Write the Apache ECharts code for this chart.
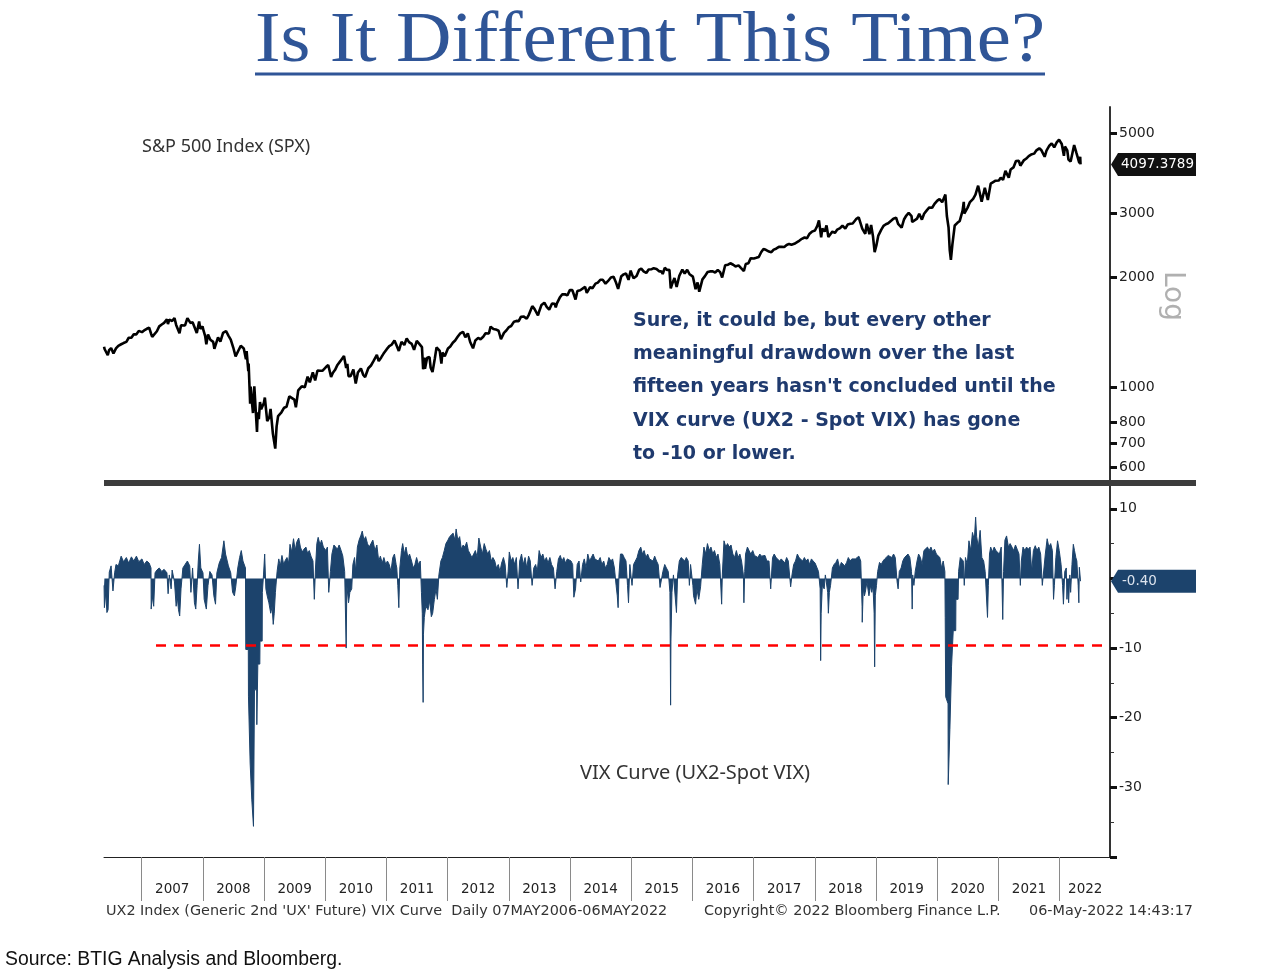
<!DOCTYPE html>
<html><head><meta charset="utf-8">
<script src="https://cdn.jsdelivr.net/npm/echarts@6/dist/echarts.min.js"></script>
<style>html,body{margin:0;padding:0;background:#fff}#c{width:1280px;height:973px}</style>
</head><body><div id="c"></div>
<script>
// ---------------- DATA ----------------
const TITLE = 'Is It Different This Time?';
const SPX_LABEL = 'S&P 500 Index (SPX)';
const VIX_LABEL = 'VIX Curve (UX2-Spot VIX)';
const NOTE_LINES = [
  'Sure, it could be, but every other',
  'meaningful drawdown over the last',
  "fifteen years hasn't concluded until the",
  'VIX curve (UX2 - Spot VIX) has gone',
  'to -10 or lower.'
];
const FOOT_LEFT = "UX2 Index (Generic 2nd 'UX' Future) VIX Curve  Daily 07MAY2006-06MAY2022";
const FOOT_MID = 'Copyright\u00A9 2022 Bloomberg Finance L.P.';
const FOOT_RIGHT = '06-May-2022 14:43:17';
const SOURCE = 'Source: BTIG Analysis and Bloomberg.';
const yearLabels = ['2007','2008','2009','2010','2011','2012','2013','2014','2015','2016','2017','2018','2019','2020','2021','2022'];
const spxTicks = [600, 700, 800, 1000, 2000, 3000, 5000];
const vixMajorTicks = [-40, -30, -20, -10, 0, 10];
const vixMinorTicks = [-35, -25, -15, -5, 5];
const vixTickLabels = [-30, -20, -10, 10];
const SPX_LAST = 4097.3789;
const VIX_LAST = -0.40;
const THRESHOLD = -9.6;

const spx2006 = [['05-22',1291],['05-25',1272],['06-01',1285],['06-13',1223],['06-21',1263],['07-03',1280],['07-17',1236],['08-01',1277],['08-15',1298],['09-01',1311],['09-15',1321],['10-02',1331],['10-16',1366],['11-01',1367],['11-15',1397],['12-01',1396],['12-15',1427]];
const spx2007 = [['01-03',1416],['01-16',1431],['02-01',1446],['02-15',1456],['02-27',1399],['03-05',1374],['03-14',1377],['04-02',1424],['04-16',1468],['05-01',1486],['05-15',1501],['06-01',1536],['06-07',1490],['06-15',1532],['07-02',1519],['07-16',1549],['07-26',1482],['08-01',1465],['08-15',1406],['08-24',1479],['09-04',1489],['09-17',1477],['10-01',1547],['10-09',1565],['10-19',1501],['11-01',1508],['11-15',1451],['11-26',1407],['12-10',1515],['12-17',1445],['12-31',1468]];
const spx2008 = [['01-02',1447],['01-15',1380],['01-22',1310],['02-01',1395],['02-15',1349],['03-03',1331],['03-10',1273],['03-17',1276],['04-01',1370],['04-15',1334],['05-01',1409],['05-19',1426],['06-02',1385],['06-16',1350],['07-01',1284],['07-15',1214],['08-01',1260],['08-15',1298],['09-02',1277],['09-15',1193],['09-19',1255],['09-29',1106],['10-01',1161],['10-10',899],['10-13',1003],['10-22',896],['10-27',848],['11-04',1005],['11-20',752],['11-24',852],['12-01',816],['12-08',909],['12-15',868],['12-31',903]];
const spx2009 = [['01-06',935],['01-20',805],['02-02',826],['02-09',870],['02-23',743],['03-09',677],['03-17',778],['03-26',832],['04-15',852],['05-01',877],['05-15',882],['06-01',942],['06-12',946],['07-01',923],['07-10',879],['07-24',979],['08-14',1004],['09-01',998],['09-18',1068],['10-01',1030],['10-19',1097],['11-02',1042],['11-16',1110],['12-01',1108],['12-15',1108]];
const spx2010 = [['01-04',1133],['01-19',1150],['02-05',1066],['02-16',1094],['03-01',1115],['03-15',1150],['04-01',1178],['04-23',1217],['05-06',1128],['05-13',1157],['05-20',1071],['06-01',1070],['06-18',1117],['07-02',1022],['07-15',1096],['08-02',1125],['08-16',1079],['08-27',1065],['09-15',1126],['10-01',1146],['10-15',1176],['11-05',1225],['11-16',1178],['12-01',1206],['12-15',1236]];
const spx2011 = [['01-03',1271],['01-18',1295],['02-01',1307],['02-18',1343],['03-01',1306],['03-16',1257],['04-01',1332],['04-18',1305],['05-02',1361],['05-16',1329],['06-01',1314],['06-15',1265],['07-01',1339],['07-15',1316],['08-01',1287],['08-08',1119],['08-15',1204],['08-19',1123],['09-01',1204],['09-15',1209],['09-22',1129],['10-03',1099],['10-17',1200],['10-27',1285],['11-15',1257],['11-25',1159],['12-01',1244],['12-15',1215]];
const spx2012 = [['01-03',1277],['01-17',1293],['02-01',1324],['02-15',1343],['03-01',1374],['03-15',1402],['04-02',1419],['04-16',1370],['05-01',1405],['05-15',1330],['06-01',1278],['06-15',1343],['07-02',1365],['07-16',1353],['08-01',1375],['08-15',1405],['09-04',1404],['09-14',1466],['10-01',1444],['10-15',1440],['11-01',1428],['11-15',1353],['12-03',1409],['12-17',1430]];
const spx2013 = [['01-02',1462],['01-15',1472],['02-01',1513],['02-15',1520],['03-01',1518],['03-15',1561],['04-01',1562],['04-18',1541],['05-01',1582],['05-21',1669],['06-03',1640],['06-24',1573],['07-01',1614],['07-15',1682],['08-01',1706],['08-15',1661],['08-30',1633],['09-16',1697],['10-01',1695],['10-08',1655],['10-15',1698],['11-01',1762],['11-15',1798],['12-02',1800],['12-16',1786],['12-31',1848]];
const spx2014 = [['01-15',1848],['02-03',1741],['02-14',1838],['03-03',1846],['03-14',1841],['04-01',1885],['04-11',1815],['05-01',1883],['05-15',1870],['06-02',1925],['06-16',1937],['07-01',1973],['07-15',1973],['08-01',1925],['08-15',1955],['09-02',2002],['09-18',2011],['10-01',1946],['10-15',1862],['11-03',2018],['11-17',2041],['12-01',2053],['12-16',1972],['12-29',2090]];
const spx2015 = [['01-02',2058],['01-15',1992],['02-02',2021],['02-17',2100],['03-02',2117],['03-16',2081],['04-01',2059],['04-15',2106],['05-01',2108],['05-15',2123],['06-01',2111],['06-15',2084],['07-01',2077],['07-08',2046],['07-20',2128],['08-03',2098],['08-17',2102],['08-25',1867],['09-01',1914],['09-16',1995],['09-29',1884],['10-15',2023],['11-02',2104],['11-16',2053],['12-01',2102],['12-15',2043]];
const spx2016 = [['01-04',2012],['01-20',1859],['02-01',1940],['02-11',1829],['03-01',1978],['03-15',2015],['04-01',2073],['04-15',2080],['05-02',2081],['05-16',2066],['06-01',2099],['06-15',2071],['06-27',2001],['07-15',2162],['08-01',2170],['08-15',2190],['09-01',2170],['09-15',2147],['10-03',2161],['10-17',2127],['11-04',2085],['11-15',2180],['12-01',2191],['12-15',2262]];
const spx2017 = [['01-03',2258],['01-17',2268],['02-01',2279],['02-15',2349],['03-01',2396],['03-15',2385],['04-03',2359],['04-17',2349],['05-01',2388],['05-15',2402],['06-01',2430],['06-15',2432],['07-03',2429],['07-17',2459],['08-01',2476],['08-15',2464],['09-01',2477],['09-15',2500],['10-02',2529],['10-16',2557],['11-01',2579],['11-15',2565],['12-01',2642],['12-15',2676]];
const spx2018 = [['01-02',2695],['01-16',2777],['01-26',2873],['02-08',2581],['02-15',2731],['03-01',2677],['03-12',2783],['03-23',2588],['04-02',2582],['04-16',2677],['05-01',2655],['05-15',2711],['06-01',2735],['06-15',2780],['07-02',2726],['07-16',2798],['08-01',2813],['08-15',2818],['09-04',2896],['09-20',2931],['10-01',2924],['10-11',2729],['10-29',2641],['11-07',2814],['11-23',2633],['12-03',2790],['12-14',2600],['12-24',2351]];
const spx2019 = [['01-03',2448],['01-15',2610],['02-01',2707],['02-15',2776],['03-01',2804],['03-15',2822],['04-01',2867],['04-15',2905],['05-01',2924],['05-13',2812],['06-03',2745],['06-17',2890],['07-01',2964],['07-15',3014],['08-01',2953],['08-05',2844],['08-15',2848],['09-03',2906],['09-16',2998],['10-02',2888],['10-15',2996],['11-01',3067],['11-15',3120],['12-02',3113],['12-16',3191]];
const spx2020 = [['01-02',3258],['01-15',3289],['01-31',3226],['02-19',3386],['02-28',2954],['03-09',2747],['03-16',2386],['03-23',2237],['04-01',2470],['04-15',2783],['05-01',2830],['05-15',2864],['06-01',3056],['06-08',3232],['06-11',3002],['07-01',3116],['07-15',3227],['08-03',3295],['08-17',3382],['09-02',3580],['09-23',3237],['10-12',3534],['10-30',3270],['11-16',3627],['12-01',3662],['12-15',3695]];
const spx2021 = [['01-04',3700],['01-15',3768],['01-29',3714],['02-12',3934],['03-04',3768],['03-15',3968],['04-01',4020],['04-16',4185],['05-03',4192],['05-12',4063],['06-01',4202],['06-15',4246],['07-01',4320],['07-15',4360],['08-02',4387],['08-16',4479],['09-02',4537],['09-15',4480],['10-04',4300],['10-15',4471],['11-01',4613],['11-15',4682],['11-30',4567],['12-01',4513],['12-15',4709],['12-29',4793]];
const spx2022 = [['01-03',4797],['01-14',4663],['01-27',4326],['02-02',4589],['02-16',4475],['02-23',4225],['03-08',4171],['03-29',4632],['04-11',4413],['04-20',4459],['04-29',4132],['05-04',4300],['05-06',4097.3789]];

const vix2006 = [['05-22',-1.0],['05-24',-4.2],['06-01',-2.0],['06-08',-4.9],['06-15',-4.5],['06-22',0.9],['07-03',1.8],['07-14',-1.8],['07-24',0.8],['08-01',2.0],['08-15',1.8],['09-01',3.2],['09-15',2.4],['10-02',3.0],['10-16',2.2],['11-01',3.1],['11-15',2.5],['12-01',3.2],['12-15',2.4]];
const vix2007 = [['01-03',2.8],['01-16',2.0],['02-01',2.5],['02-15',2.2],['02-26',1.5],['02-27',-4.4],['03-05',-2.5],['03-14',-4.0],['03-22',0.8],['04-02',1.2],['04-16',1.5],['05-01',1.0],['05-15',1.3],['06-01',0.8],['06-08',-2.2],['06-15',0.5],['06-26',-1.5],['07-02',1.2],['07-16',-0.5],['07-26',-4.0],['08-01',-2.5],['08-09',-4.5],['08-16',-5.4],['08-24',-1.5],['09-04',1.5],['09-17',2.0],['10-01',2.5],['10-15',1.8],['10-22',-2.0],['11-01',1.5],['11-12',-3.5],['11-20',-4.4],['11-28',-1.0],['12-05',2.5],['12-12',4.9],['12-20',1.5]];
const vix2008 = [['01-02',0.8],['01-09',-3.0],['01-22',-4.4],['02-01',-1.0],['02-12',1.0],['02-25',0.5],['03-07',-2.5],['03-17',-3.7],['03-25',0.8],['04-08',2.2],['04-22',3.0],['05-06',5.4],['05-16',3.5],['06-02',1.8],['06-16',0.8],['06-27',-2.0],['07-08',-2.5],['07-16',-1.2],['07-28',1.5],['08-08',3.0],['08-18',4.0],['08-28',2.5],['09-12',1.5],['09-14',-10.2],['09-29',-10.2],['09-30',-16.9],['10-09',-16.9],['10-10',-26.5],['10-19',-26.5],['10-20',-31.8],['10-29',-31.8],['10-30',-35.6],['11-04',-35.6],['11-05',-16.0],['11-18',-16.0],['11-19',-21.0],['11-24',-21.0],['11-25',-12.3],['12-07',-12.3],['12-08',-9.0],['12-21',-9.0],['12-22',-2.0],['12-29',0.5]];
const vix2009 = [['01-05',3.5],['01-12',-1.5],['01-20',-2.5],['01-30',-3.5],['02-10',-5.0],['02-18',-4.0],['02-25',-6.6],['03-03',-5.0],['03-10',-2.0],['03-20',1.0],['03-30',2.8],['04-08',1.8],['04-18',3.3],['04-28',2.0],['05-08',2.6],['05-18',3.0],['05-28',2.2],['06-05',4.9],['06-15',3.8],['06-26',5.7],['07-06',4.0],['07-15',5.2],['07-27',5.8],['08-06',4.5],['08-17',3.8],['08-27',4.2],['09-08',4.5],['09-18',3.6],['09-28',4.0],['10-08',3.2],['10-20',2.5],['10-28',-3.0],['11-04',1.5],['11-12',5.0],['11-20',5.9],['12-01',4.8],['12-10',5.5],['12-21',4.5]];
const vix2010 = [['01-05',4.0],['01-14',4.5],['01-22',-2.0],['02-01',1.0],['02-10',3.5],['02-22',4.8],['03-05',5.0],['03-15',4.2],['03-25',4.8],['04-06',4.0],['04-16',3.2],['04-27',1.0],['05-06',-10.0],['05-10',-1.0],['05-20',-3.5],['05-28',-2.0],['06-08',-1.5],['06-15',2.0],['06-25',3.0],['07-02',1.0],['07-12',4.5],['07-22',5.5],['08-02',6.2],['08-10',6.8],['08-20',5.5],['08-30',6.0],['09-10',5.0],['09-20',4.5],['10-01',5.0],['10-12',5.5],['10-25',4.0],['11-05',4.8],['11-16',2.5],['11-26',3.2],['12-07',2.2],['12-17',3.0],['12-28',2.0]];
const vix2011 = [['01-07',2.5],['01-18',2.0],['01-28',1.0],['02-08',3.0],['02-18',3.5],['02-28',2.0],['03-04',1.5],['03-10',-1.0],['03-16',-4.2],['03-22',1.5],['04-01',4.0],['04-08',5.0],['04-18',3.5],['04-28',4.5],['05-09',3.0],['05-19',3.5],['05-31',2.5],['06-10',1.5],['06-20',2.0],['06-30',3.0],['07-11',2.0],['07-22',2.5],['07-29',-2.0],['08-03',-5.0],['08-05',-12.3],['08-08',-17.8],['08-10',-8.0],['08-15',-5.6],['08-24',-4.0],['09-06',-4.5],['09-16',-3.2],['09-26',-5.5],['10-04',-5.0],['10-14',-3.0],['10-24',-1.5],['11-01',-3.0],['11-10',0.5],['11-22',2.5],['12-01',3.0],['12-12',4.0],['12-22',5.0]];
const vix2012 = [['01-03',5.5],['01-13',6.0],['01-24',6.2],['02-03',6.5],['02-14',5.5],['02-21',7.1],['03-02',5.5],['03-13',6.0],['03-23',4.2],['04-03',4.8],['04-13',4.5],['04-24',5.2],['05-04',4.0],['05-15',3.5],['05-25',3.0],['06-05',3.5],['06-15',4.0],['06-26',3.0],['07-06',5.8],['07-17',4.5],['07-27',3.5],['08-07',5.0],['08-17',4.2],['08-28',3.5],['09-07',4.0],['09-18',2.5],['09-28',3.0],['10-09',2.5],['10-19',1.5],['10-30',2.0],['11-09',1.0],['11-19',2.2],['11-30',3.0],['12-10',2.0],['12-20',-1.3],['12-28',1.0]];
const vix2013 = [['01-04',3.8],['01-15',2.5],['01-25',3.0],['02-05',2.0],['02-15',3.0],['02-25',-1.5],['03-07',2.5],['03-18',3.5],['03-28',2.0],['04-08',3.0],['04-18',1.5],['04-29',3.2],['05-09',2.5],['05-20',-1.0],['05-30',1.5],['06-10',2.0],['06-20',1.0],['07-01',4.0],['07-12',3.0],['07-23',3.5],['08-02',2.5],['08-13',3.0],['08-23',2.2],['09-03',3.0],['09-13',2.0],['09-24',1.5],['10-04',-1.5],['10-14',1.0],['10-24',2.8],['11-04',3.3],['11-14',2.5],['11-25',3.0],['12-05',2.2],['12-16',2.8],['12-27',3.0]];
const vix2014 = [['01-07',2.5],['01-17',2.0],['01-24',-2.7],['02-03',-1.5],['02-13',2.0],['02-24',2.5],['03-06',-0.5],['03-17',2.0],['03-27',2.8],['04-07',1.5],['04-17',3.5],['04-28',2.5],['05-08',3.0],['05-19',3.5],['05-29',2.8],['06-09',3.0],['06-19',2.5],['06-30',3.0],['07-10',2.0],['07-21',2.5],['07-31',1.5],['08-11',2.0],['08-21',3.0],['09-02',2.5],['09-12',2.8],['09-23',1.5],['10-03',-1.0],['10-10',-2.5],['10-15',-4.2],['10-20',0.5],['10-29',3.5],['11-10',3.5],['11-20',3.0],['12-01',2.5],['12-10',-1.0],['12-16',-3.5],['12-24',2.0]];
const vix2015 = [['01-06',-1.0],['01-15',2.0],['01-26',2.5],['02-05',3.0],['02-16',4.0],['02-27',4.5],['03-09',3.5],['03-19',4.0],['03-30',3.0],['04-09',3.5],['04-20',2.8],['04-30',3.0],['05-11',2.5],['05-21',3.2],['06-01',2.5],['06-11',2.0],['06-22',-1.3],['06-29',-1.3],['07-09',1.0],['07-20',2.0],['07-30',1.5],['08-10',1.0],['08-20',-2.0],['08-24',-18.2],['08-26',-9.0],['09-01',-2.0],['09-10',0.5],['09-28',-4.9],['10-05',0.5],['10-15',2.5],['10-26',3.0],['11-05',2.8],['11-16',2.5],['11-26',3.0],['12-07',2.5],['12-14',-1.0],['12-21',2.0]];
const vix2016 = [['01-04',-1.0],['01-08',-2.5],['01-20',-3.7],['01-28',-1.5],['02-08',-3.0],['02-11',-3.0],['02-19',-1.2],['02-29',2.0],['03-10',4.5],['03-21',3.5],['03-31',5.0],['04-11',4.0],['04-21',4.5],['05-02',3.5],['05-12',4.0],['05-23',3.0],['06-02',3.5],['06-13',2.0],['06-24',-3.7],['06-28',0.5],['07-08',5.4],['07-19',4.5],['07-29',5.0],['08-09',4.5],['08-19',4.8],['08-30',3.5],['09-09',3.0],['09-20',4.0],['09-30',3.0],['10-11',3.5],['10-21',2.5],['11-01',0.5],['11-04',-3.5],['11-09',1.0],['11-14',3.5],['11-25',4.5],['12-05',4.0],['12-15',3.5],['12-27',4.0]];
const vix2017 = [['01-06',3.3],['01-17',3.5],['01-27',3.0],['02-07',3.5],['02-17',3.2],['02-28',3.0],['03-10',3.3],['03-21',2.5],['04-03',2.5],['04-13',-1.5],['04-24',3.0],['05-04',3.5],['05-15',3.0],['05-25',2.8],['06-05',2.5],['06-15',2.8],['06-26',2.5],['07-06',2.2],['07-17',3.0],['07-27',2.5],['08-10',-1.2],['08-18',0.5],['08-28',2.0],['09-08',2.5],['09-19',3.5],['09-29',3.0],['10-10',3.2],['10-20',2.5],['10-31',3.0],['11-10',2.5],['11-21',2.8],['12-01',2.0],['12-12',2.8],['12-22',2.5]];
const vix2018 = [['01-03',2.2],['01-12',2.0],['01-23',1.0],['02-02',-1.5],['02-05',-11.8],['02-08',-5.0],['02-15',-1.0],['02-26',-1.5],['03-05',0.5],['03-19',-2.0],['03-23',-5.0],['03-29',-2.0],['04-05',-1.0],['04-16',1.5],['04-26',2.0],['05-07',2.3],['05-17',2.8],['05-29',1.5],['06-08',2.3],['06-19',2.5],['06-29',1.8],['07-10',2.3],['07-20',3.0],['07-31',2.5],['08-10',2.8],['08-21',3.0],['08-31',2.8],['09-11',3.0],['09-21',3.2],['10-02',2.5],['10-10',-4.0],['10-11',-6.3],['10-17',-1.5],['10-24',-2.5],['10-29',-2.0],['11-08',-0.5],['11-20',-2.5],['11-30',-1.0],['12-07',-2.0],['12-14',-1.0],['12-21',-5.0],['12-24',-12.7],['12-28',-2.5]];
const vix2019 = [['01-04',-1.0],['01-11',1.0],['01-22',2.3],['02-01',2.0],['02-12',2.5],['02-22',2.8],['03-05',3.0],['03-15',3.3],['03-26',3.5],['04-05',3.0],['04-16',3.5],['04-26',3.0],['05-07',-0.5],['05-13',-1.5],['05-20',1.0],['05-31',1.5],['06-10',2.5],['06-20',3.0],['07-01',3.2],['07-11',3.5],['07-22',3.0],['08-01',1.0],['08-05',-4.4],['08-08',0.5],['08-15',-1.0],['08-23',1.0],['09-03',2.5],['09-12',3.5],['09-23',3.0],['10-03',2.0],['10-14',4.0],['10-24',4.2],['11-04',4.5],['11-14',4.0],['11-25',4.5],['12-05',3.8],['12-16',4.2],['12-27',3.5]];
const vix2020 = [['01-07',3.5],['01-17',3.0],['01-27',1.5],['02-06',2.5],['02-16',1.0],['02-18',-5.6],['02-20',-5.6],['02-21',-17.0],['03-06',-18.0],['03-07',-29.6],['03-16',-29.6],['03-17',-21.7],['03-26',-21.7],['03-27',-12.6],['04-05',-12.6],['04-06',-7.5],['04-21',-7.5],['04-22',-3.0],['05-05',-3.0],['05-08',1.0],['05-18',3.0],['05-28',3.0],['06-05',2.5],['06-11',-1.0],['06-18',3.0],['06-29',2.0],['07-09',5.4],['07-20',4.0],['07-30',6.6],['08-10',5.5],['08-18',8.8],['08-24',6.0],['09-03',4.5],['09-14',6.9],['09-24',3.0],['10-05',2.5],['10-14',1.0],['10-28',-5.6],['11-02',-1.0],['11-09',3.5],['11-16',4.5],['11-26',3.8],['12-07',4.5],['12-17',4.0],['12-28',4.2]];
const vix2021 = [['01-07',3.5],['01-18',4.5],['01-27',-5.9],['02-01',1.0],['02-09',5.5],['02-19',6.1],['03-02',4.5],['03-12',5.0],['03-23',4.5],['04-02',4.0],['04-13',4.8],['04-23',4.2],['05-04',3.5],['05-12',-1.0],['05-18',2.5],['05-28',4.5],['06-08',4.0],['06-18',4.5],['06-29',4.2],['07-09',4.5],['07-19',1.0],['07-29',4.0],['08-09',4.7],['08-19',4.0],['08-30',4.5],['09-10',3.5],['09-20',-1.0],['09-30',1.5],['10-08',3.5],['10-19',5.7],['10-29',4.5],['11-09',5.0],['11-19',4.0],['11-26',-3.0],['12-01',-1.0],['12-10',3.0],['12-20',5.4],['12-30',4.0]];
const vix2022 = [['01-10',2.0],['01-19',-1.0],['01-24',-3.7],['02-01',1.0],['02-10',1.5],['02-14',-3.0],['02-18',-1.0],['02-24',-3.5],['03-03',0.5],['03-08',-2.0],['03-16',2.0],['03-24',4.9],['03-31',4.0],['04-08',3.0],['04-14',2.5],['04-22',-1.0],['04-26',-3.5],['04-29',1.6],['05-03',1.6],['05-06',-0.4]];

// ---------------- BUILD ----------------
function yf(ds){const d=new Date(ds+'T00:00:00Z');const y=d.getUTCFullYear();const s=Date.UTC(y,0,1),e=Date.UTC(y+1,0,1);return y+(d.getTime()-s)/(e-s);}
const spxByYear = [[2006,spx2006],[2007,spx2007],[2008,spx2008],[2009,spx2009],[2010,spx2010],[2011,spx2011],[2012,spx2012],[2013,spx2013],[2014,spx2014],[2015,spx2015],[2016,spx2016],[2017,spx2017],[2018,spx2018],[2019,spx2019],[2020,spx2020],[2021,spx2021],[2022,spx2022]];
const vixByYear = [[2006,vix2006],[2007,vix2007],[2008,vix2008],[2009,vix2009],[2010,vix2010],[2011,vix2011],[2012,vix2012],[2013,vix2013],[2014,vix2014],[2015,vix2015],[2016,vix2016],[2017,vix2017],[2018,vix2018],[2019,vix2019],[2020,vix2020],[2021,vix2021],[2022,vix2022]];
function build(byYear, f){const out=[];byYear.forEach(([y,arr])=>arr.forEach(([md,v])=>out.push([yf(y+'-'+md), f(v)])));out.sort((a,b)=>a[0]-b[0]);return out;}
const spxData = build(spxByYear, v=>Math.log10(v));
const vixData = build(vixByYear, v=>v);

const X_SHIFT = 0.04;
const X_MIN = yf('2006-05-07') + X_SHIFT, X_MAX = 2022.784 + X_SHIFT;
const LOG_MIN = 2.7358, LOG_MAX = 3.7705;
const V_MIN = -40, V_MAX = 13.27;
const yearTickPos = yearLabels.map(y=>+y);
const yearLabelPos = yearLabels.map((y,i)=> i<yearLabels.length-1 ? (+y)+0.5 : (+y)+0.42);
const spxTickPos = spxTicks.map(v=>Math.log10(v));

const NAVY = '#1c436c';
const chart = echarts.init(document.getElementById('c'));
const AX_FONT = '"DejaVu Sans", Verdana, sans-serif';

chart.setOption({
  animation:false,
  backgroundColor:'#ffffff',
  grid:[
    {left:104, right:170, top:107, height:376},
    {left:104, right:170, top:486, height:371}
  ],
  xAxis:[
    {type:'value', gridIndex:0, min:X_MIN, max:X_MAX, show:false},
    {type:'value', gridIndex:1, min:X_MIN, max:X_MAX, position:'bottom',
     axisLine:{show:true, onZero:false, lineStyle:{color:'#222', width:1}},
     axisTick:{show:true, customValues:yearTickPos, length:44, lineStyle:{color:'#8a8a8a', width:1}},
     axisLabel:{customValues:yearLabelPos, margin:25, color:'#222', fontSize:13.5, fontFamily:AX_FONT,
       formatter:v=>yearLabels[Math.floor(v)-2007] || ''},
     splitLine:{show:false}}
  ],
  yAxis:[
    {type:'value', gridIndex:0, position:'right', min:LOG_MIN, max:LOG_MAX,
     axisLine:{show:true, lineStyle:{color:'#333', width:2}},
     axisTick:{show:true, customValues:spxTickPos, length:7, lineStyle:{color:'#111', width:3}},
     axisLabel:{customValues:spxTickPos, margin:9, color:'#222', fontSize:14, fontFamily:AX_FONT,
       formatter:v=>{let best=spxTicks[0];spxTicks.forEach(t=>{if(Math.abs(Math.log10(t)-v)<Math.abs(Math.log10(best)-v))best=t;});return String(best);}},
     splitLine:{show:false}},
    {type:'value', gridIndex:1, position:'right', min:V_MIN, max:V_MAX,
     axisLine:{show:true, onZero:false, lineStyle:{color:'#333', width:2}},
     axisTick:{show:true, customValues:vixMajorTicks, length:7, lineStyle:{color:'#111', width:3}},
     axisLabel:{customValues:vixTickLabels, margin:9, color:'#222', fontSize:14, fontFamily:AX_FONT},
     splitLine:{show:false}},
    {type:'value', gridIndex:1, position:'right', min:V_MIN, max:V_MAX,
     axisLine:{show:false},
     axisTick:{show:true, customValues:vixMinorTicks, length:4, lineStyle:{color:'#333', width:1}},
     axisLabel:{show:false}, splitLine:{show:false}}
  ],
  series:[
    {type:'line', xAxisIndex:0, yAxisIndex:0, data:spxData, showSymbol:false, symbol:'none', clip:true,
     lineStyle:{color:'#000', width:2.6}, z:3},
    {type:'line', xAxisIndex:1, yAxisIndex:1, data:vixData, showSymbol:false, symbol:'none', clip:true,
     lineStyle:{color:NAVY, width:1}, areaStyle:{color:NAVY, opacity:1, origin:0}, z:2,
     markLine:{silent:true, symbol:'none', z:10, label:{show:false},
       lineStyle:{color:'#ff0000', width:2.5, type:[10,8]},
       data:[[{coord:[2007.195+X_SHIFT, THRESHOLD]},{coord:[X_MAX, THRESHOLD]}]]}}
  ]
});

// ---------------- ANNOTATIONS ----------------
const ySpx = chart.convertToPixel({yAxisIndex:0}, Math.log10(SPX_LAST));
const yVix = chart.convertToPixel({yAxisIndex:1}, VIX_LAST);
const axX = chart.convertToPixel({xAxisIndex:1}, X_MAX);
function flag(y, fill){return {type:'polygon', shape:{points:[[axX+1,y],[axX+8,y-11.5],[1196,y-11.5],[1196,y+11.5],[axX+8,y+11.5]]}, style:{fill:fill}, z:100};}
const TITLE_FONT = '72px "Liberation Serif", "Times New Roman", serif';
const mctx = document.createElement('canvas').getContext('2d');
mctx.font = TITLE_FONT;
const titleW = mctx.measureText(TITLE).width;
const titleScale = 790 / titleW;
const g = [];
g.push({type:'text', x:650, y:42, scaleX:titleScale, z:100, style:{text:TITLE, font:TITLE_FONT, fill:'#2F5597', textAlign:'center', textVerticalAlign:'middle'}});
g.push({type:'line', z:100, shape:{x1:255, y1:74, x2:1045, y2:74}, style:{stroke:'#2F5597', lineWidth:3}});
g.push({type:'text', x:142, y:147, z:100, style:{text:SPX_LABEL, font:'18px "Noto Sans", sans-serif', fill:'#333', textAlign:'left', textVerticalAlign:'middle'}});
g.push({type:'text', x:580, y:773, z:100, style:{text:VIX_LABEL, font:'20px "Noto Sans", sans-serif', fill:'#333', textAlign:'left', textVerticalAlign:'middle'}});
NOTE_LINES.forEach((t,i)=>g.push({type:'text', x:633, y:321+i*33.25, z:100, style:{text:t, font:'bold 19px "DejaVu Sans", sans-serif', fill:'#1f3a6e', textAlign:'left', textVerticalAlign:'middle'}}));
g.push({type:'rect', z:100, shape:{x:104, y:480, width:1092, height:6}, style:{fill:'#3c3c3c'}});
g.push(flag(ySpx, '#111111'));
g.push({type:'text', x:1121, y:ySpx, z:101, style:{text:String(SPX_LAST), font:'13.5px "DejaVu Sans", sans-serif', fill:'#ffffff', textAlign:'left', textVerticalAlign:'middle'}});
g.push(flag(yVix, NAVY));
g.push({type:'text', x:1122, y:yVix, z:101, style:{text:VIX_LAST.toFixed(2), font:'13.5px "DejaVu Sans", sans-serif', fill:'#dde4ee', textAlign:'left', textVerticalAlign:'middle'}});
g.push({type:'text', x:1172, y:296, rotation:-Math.PI/2, z:100, style:{text:'Log', font:'28px "DejaVu Sans", sans-serif', fill:'#b0b0b0', textAlign:'center', textVerticalAlign:'middle'}});
g.push({type:'text', x:106, y:911, z:100, style:{text:FOOT_LEFT, font:'14.4px "DejaVu Sans", sans-serif', fill:'#333', textAlign:'left', textVerticalAlign:'middle'}});
g.push({type:'text', x:704, y:911, z:100, style:{text:FOOT_MID, font:'14.4px "DejaVu Sans", sans-serif', fill:'#333', textAlign:'left', textVerticalAlign:'middle'}});
g.push({type:'text', x:1193, y:911, z:100, style:{text:FOOT_RIGHT, font:'14.4px "DejaVu Sans", sans-serif', fill:'#333', textAlign:'right', textVerticalAlign:'middle'}});
g.push({type:'text', x:5, y:960, z:100, style:{text:SOURCE, font:'19.4px "Liberation Sans", Arial, sans-serif', fill:'#111', textAlign:'left', textVerticalAlign:'middle'}});
chart.setOption({graphic:{elements:g}});
</script></body></html>
